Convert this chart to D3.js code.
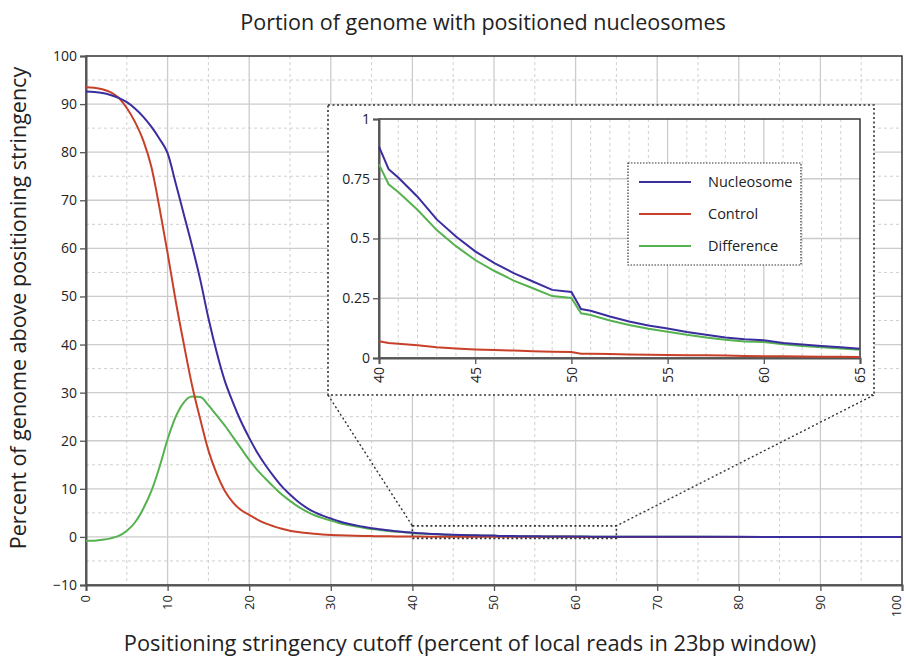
<!DOCTYPE html>
<html>
<head>
<meta charset="utf-8">
<script src="https://cdn.jsdelivr.net/npm/d3@7"></script>
<style>
  body { margin: 0; background: #fff; }
  text { font-family: "Open Sans", "Noto Sans", sans-serif; fill: #222; }
</style>
</head>
<body>
<script>
// Main curve, x = 0..40 step 1 (percent)
const mainX = d3.range(0, 41);
const nucleosomeMain = [92.6, 92.5, 92.3, 91.9, 91.3, 90.4, 89.1, 87.4, 85.3, 82.8,
  79.8, 73.5, 67, 60.5, 53.5, 45.5, 38.5, 32.5, 28, 24,
  20.6, 17.5, 14.9, 12.6, 10.5, 8.8, 7.3, 6.1, 5.15, 4.42,
  3.82, 3.25, 2.79, 2.44, 2.1, 1.82, 1.59, 1.37, 1.2, 1.035, 0.88];
const controlMain = [93.5, 93.4, 93.1, 92.5, 91.3, 89.2, 86.3, 82.5, 77, 68.5,
  59, 49, 40, 31.5, 24.5, 18, 13.2, 9.6, 7.2, 5.6,
  4.6, 3.6, 2.8, 2.2, 1.7, 1.3, 1.0, 0.8, 0.65, 0.52,
  0.42, 0.35, 0.29, 0.24, 0.2, 0.17, 0.14, 0.12, 0.1, 0.085, 0.07];
const differenceMain = [-0.8, -0.8, -0.6, -0.3, 0.2, 1.3, 3.0, 5.8, 9.5, 14.5,
  20.3, 25, 28, 29.2, 29.1, 27.4, 25.3, 23.2, 20.8, 18.4,
  16.0, 13.9, 12.1, 10.4, 8.8, 7.5, 6.3, 5.3, 4.5, 3.9,
  3.4, 2.9, 2.5, 2.2, 1.9, 1.65, 1.45, 1.25, 1.1, 0.95, 0.81];

// Inset detail, x = 40..65
const insetX = [40, 40.5, 41, 42, 43, 44, 45, 46, 47, 48, 49, 50, 50.5,
  51, 52, 53, 54, 55, 56, 57, 58, 59, 60, 61, 62, 63, 64, 65];
const nucleosomeInset = [0.884, 0.79, 0.755, 0.675, 0.58, 0.508, 0.446, 0.397, 0.355, 0.32, 0.285, 0.276, 0.205,
  0.198, 0.174, 0.153, 0.136, 0.123, 0.109, 0.097, 0.086, 0.078, 0.074, 0.063, 0.056, 0.05, 0.045, 0.039];
const controlInset = [0.07, 0.063, 0.06, 0.053, 0.045, 0.04, 0.036, 0.033, 0.031, 0.028, 0.026, 0.025, 0.018,
  0.018, 0.017, 0.015, 0.014, 0.013, 0.012, 0.011, 0.01, 0.008, 0.007, 0.007, 0.006, 0.005, 0.005, 0.004];
const differenceInset = [0.81, 0.727, 0.695, 0.62, 0.535, 0.468, 0.41, 0.364, 0.324, 0.292, 0.259, 0.251, 0.187,
  0.18, 0.157, 0.138, 0.122, 0.11, 0.097, 0.086, 0.076, 0.069, 0.067, 0.057, 0.05, 0.045, 0.04, 0.035];

// Tail, x = 70..100
const tailX = [70, 80, 90, 100];
const nucleosomeTail = [0.02, 0.008, 0.003, 0.001];
const controlTail = [0.002, 0.001, 0, 0];
const differenceTail = [0.018, 0.007, 0.003, 0.001];

const seriesNames = ["Nucleosome", "Control", "Difference"];
const seriesColors = ["#3a2e9e", "#c8402a", "#55b24f"];

const mainXTicks = d3.range(0, 101, 10);
const mainYTicks = d3.range(-10, 101, 10);
const insetXTicks = d3.range(40, 66, 5);
const insetYTicks = [0, 0.25, 0.5, 0.75, 1];
const zoomWindowY = [-0.3, 2.3];

const W = 906, H = 658;
const M = { left: 86, right: 902, top: 56, bottom: 585 };
const I = { left: 379, right: 860, top: 119, bottom: 358 };
const BOX = { x0: 328, y0: 105, x1: 874, y1: 395 };

const svg = d3.select("body").append("svg")
  .attr("width", W).attr("height", H);

const x = d3.scaleLinear().domain([0, 100]).range([M.left, M.right]);
const y = d3.scaleLinear().domain([-10, 100]).range([M.bottom, M.top]);

// Main grid
const grid = svg.append("g");
grid.selectAll(".vd").data(d3.range(5, 100, 10)).join("line")
  .attr("x1", d => x(d)).attr("x2", d => x(d)).attr("y1", M.top).attr("y2", M.bottom)
  .attr("stroke", "#cfcfcf").attr("stroke-dasharray", "3,3");
grid.selectAll(".hd").data(d3.range(-5, 100, 10)).join("line")
  .attr("x1", M.left).attr("x2", M.right).attr("y1", d => y(d)).attr("y2", d => y(d))
  .attr("stroke", "#cfcfcf").attr("stroke-dasharray", "3,3");
grid.selectAll(".vs").data(mainXTicks.slice(1, -1)).join("line")
  .attr("x1", d => x(d)).attr("x2", d => x(d)).attr("y1", M.top).attr("y2", M.bottom)
  .attr("stroke", "#cccccc").attr("stroke-width", 1.3);
grid.selectAll(".hs").data(mainYTicks.slice(1, -1)).join("line")
  .attr("x1", M.left).attr("x2", M.right).attr("y1", d => y(d)).attr("y2", d => y(d))
  .attr("stroke", "#cccccc").attr("stroke-width", 1.3);

// Frame
svg.append("rect").attr("x", M.left).attr("y", M.top)
  .attr("width", M.right - M.left).attr("height", M.bottom - M.top)
  .attr("fill", "none").attr("stroke", "#333").attr("stroke-width", 1.5);

// Axes
const xAxis = svg.append("g").attr("transform", "translate(0," + M.bottom + ")")
  .call(d3.axisBottom(x).tickValues(mainXTicks).tickSize(6).tickPadding(4));
xAxis.select(".domain").attr("stroke", "#555").attr("stroke-width", 2);
xAxis.selectAll(".tick line").attr("stroke", "#555").attr("stroke-width", 1.3);
// last label sits on the window edge, nudge it in
xAxis.selectAll(".tick text")
  .attr("font-size", 13).attr("fill", "#222")
  .attr("transform", "rotate(-90)").attr("text-anchor", "end")
  .attr("x", -10).attr("y", d => d === 100 ? -5 : 0).attr("dy", "0.3em");

const yAxis = svg.append("g").attr("transform", "translate(" + M.left + ",0)")
  .call(d3.axisLeft(y).tickValues(mainYTicks).tickSize(6).tickPadding(3));
yAxis.select(".domain").attr("stroke", "#555").attr("stroke-width", 2);
yAxis.selectAll(".tick line").attr("stroke", "#555").attr("stroke-width", 1.3);
yAxis.selectAll(".tick text").attr("font-size", 14).attr("fill", "#222");

// Main curves
const allX = mainX.concat(insetX.slice(1), tailX);
const mainSeries = [
  nucleosomeMain.concat(nucleosomeInset.slice(1), nucleosomeTail),
  controlMain.concat(controlInset.slice(1), controlTail),
  differenceMain.concat(differenceInset.slice(1), differenceTail)
];
const mainLine = d3.line().x(d => x(d[0])).y(d => y(d[1])).curve(d3.curveMonotoneX);
[2, 1, 0].forEach(k => {
  svg.append("path")
    .datum(allX.map((v, i) => [v, mainSeries[k][i]]))
    .attr("d", mainLine)
    .attr("fill", "none").attr("stroke", seriesColors[k]).attr("stroke-width", 2);
});

// Zoom window and connectors
const dotted = { stroke: "#333", width: 1.6, dash: "2,2.5" };
svg.append("rect")
  .attr("x", x(40)).attr("y", y(zoomWindowY[1]))
  .attr("width", x(65) - x(40)).attr("height", y(zoomWindowY[0]) - y(zoomWindowY[1]))
  .attr("fill", "none").attr("stroke", dotted.stroke)
  .attr("stroke-width", dotted.width).attr("stroke-dasharray", dotted.dash);
svg.append("line")
  .attr("x1", BOX.x0).attr("y1", BOX.y1).attr("x2", x(40)).attr("y2", y(zoomWindowY[1]))
  .attr("stroke", dotted.stroke).attr("stroke-width", 1.4).attr("stroke-dasharray", dotted.dash);
svg.append("line")
  .attr("x1", BOX.x1).attr("y1", BOX.y1).attr("x2", x(65)).attr("y2", y(zoomWindowY[1]))
  .attr("stroke", dotted.stroke).attr("stroke-width", 1.4).attr("stroke-dasharray", dotted.dash);

// Inset box
svg.append("rect")
  .attr("x", BOX.x0).attr("y", BOX.y0)
  .attr("width", BOX.x1 - BOX.x0).attr("height", BOX.y1 - BOX.y0)
  .attr("fill", "#fff").attr("stroke", dotted.stroke)
  .attr("stroke-width", dotted.width).attr("stroke-dasharray", dotted.dash);

const ix = d3.scaleLinear().domain([40, 65]).range([I.left, I.right]);
const iy = d3.scaleLinear().domain([0, 1]).range([I.bottom, I.top]);

const ig = svg.append("g");
ig.selectAll(".ivd").data(d3.range(41, 65).filter(d => d % 5 !== 0)).join("line")
  .attr("x1", d => ix(d)).attr("x2", d => ix(d)).attr("y1", I.top).attr("y2", I.bottom)
  .attr("stroke", "#d0d0d0").attr("stroke-dasharray", "3,3");
ig.selectAll(".ivs").data(insetXTicks.slice(1, -1)).join("line")
  .attr("x1", d => ix(d)).attr("x2", d => ix(d)).attr("y1", I.top).attr("y2", I.bottom)
  .attr("stroke", "#cccccc").attr("stroke-width", 1.3);
ig.selectAll(".ihs").data(insetYTicks.slice(1, -1)).join("line")
  .attr("x1", I.left).attr("x2", I.right).attr("y1", d => iy(d)).attr("y2", d => iy(d))
  .attr("stroke", "#cccccc").attr("stroke-width", 1.3);

svg.append("rect").attr("x", I.left).attr("y", I.top)
  .attr("width", I.right - I.left).attr("height", I.bottom - I.top)
  .attr("fill", "none").attr("stroke", "#333").attr("stroke-width", 1.5);

const ixAxis = svg.append("g").attr("transform", "translate(0," + I.bottom + ")")
  .call(d3.axisBottom(ix).tickValues(insetXTicks).tickFormat(d3.format("d")).tickSize(6));
ixAxis.select(".domain").attr("stroke", "#555").attr("stroke-width", 2);
ixAxis.selectAll(".tick line").attr("stroke", "#555").attr("stroke-width", 1.3);
ixAxis.selectAll(".tick text")
  .attr("font-size", 14).attr("fill", "#222")
  .attr("transform", "rotate(-90)").attr("text-anchor", "end")
  .attr("x", -9).attr("y", 0).attr("dy", "0.35em");

const iyAxis = svg.append("g").attr("transform", "translate(" + I.left + ",0)")
  .call(d3.axisLeft(iy).tickValues(insetYTicks).tickFormat(d => String(d)).tickSize(6).tickPadding(3));
iyAxis.select(".domain").attr("stroke", "#555").attr("stroke-width", 2);
iyAxis.selectAll(".tick line").attr("stroke", "#555").attr("stroke-width", 1.3);
iyAxis.selectAll(".tick text").attr("font-size", 14).attr("fill", "#222");

const insetSeries = [nucleosomeInset, controlInset, differenceInset];
const insetLine = d3.line().x(d => ix(d[0])).y(d => iy(d[1]));
[2, 1, 0].forEach(k => {
  svg.append("path")
    .datum(insetX.map((v, i) => [v, insetSeries[k][i]]))
    .attr("d", insetLine)
    .attr("fill", "none").attr("stroke", seriesColors[k]).attr("stroke-width", 2);
});

// Legend
const lg = svg.append("g").attr("transform", "translate(628,163)");
lg.append("rect").attr("width", 173).attr("height", 102)
  .attr("fill", "#fff").attr("stroke", "#333").attr("stroke-width", 1.2)
  .attr("stroke-dasharray", "1.5,1.5");
seriesNames.forEach((name, i) => {
  const ly = 19 + i * 32;
  lg.append("line").attr("x1", 11).attr("x2", 63).attr("y1", ly).attr("y2", ly)
    .attr("stroke", seriesColors[i]).attr("stroke-width", 2);
  lg.append("text").attr("x", 80).attr("y", ly + 5).attr("font-size", 14.5).text(name);
});

// Titles
svg.append("text").attr("x", 483).attr("y", 30).attr("text-anchor", "middle")
  .attr("font-size", 21.5).text("Portion of genome with positioned nucleosomes");
svg.append("text").attr("x", 470).attr("y", 651).attr("text-anchor", "middle")
  .attr("font-size", 21.8).text("Positioning stringency cutoff (percent of local reads in 23bp window)");
svg.append("text").attr("transform", "translate(26,308) rotate(-90)").attr("text-anchor", "middle")
  .attr("font-size", 21.5).text("Percent of genome above positioning stringency");
</script>
</body>
</html>
